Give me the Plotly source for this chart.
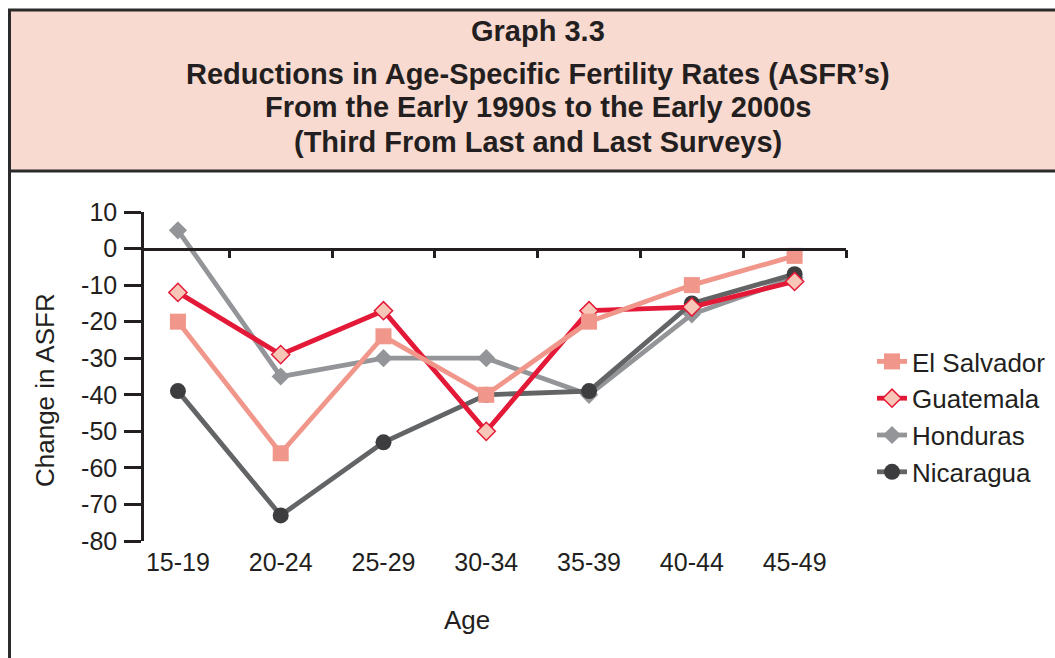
import plotly.graph_objects as go

# Datos
ages = ["15-19", "20-24", "25-29", "30-34", "35-39", "40-44", "45-49"]
el_salvador = [-20, -56, -24, -40, -20, -10, -2]
guatemala = [-12, -29, -17, -50, -17, -16, -9]
honduras = [5, -35, -30, -30, -40, -18, -8]
nicaragua = [-39, -73, -53, -40, -39, -15, -7]
y_ticks = [10, 0, -10, -20, -30, -40, -50, -60, -70, -80]

title_lines = [
    "Graph 3.3",
    "Reductions in Age-Specific Fertility Rates (ASFR\u2019s)",
    "From the Early 1990s to the Early 2000s",
    "(Third From Last and Last Surveys)",
]

W, H = 1055, 658
L, R, T, B = 144, 846, 212, 541
FONT = "Liberation Sans, Arial, sans-serif"
TXT = "#231f20"


def fx(p):
    return (p - L) / (R - L)


def fy(p):
    return (B - p) / (B - T)


x = list(range(len(ages)))

fig = go.Figure()

# orden de dibujo: Honduras abajo, El Salvador arriba
fig.add_trace(go.Scatter(
    x=x, y=honduras, name="Honduras", mode="lines+markers", legendrank=3,
    line=dict(color="#939598", width=4.8),
    marker=dict(symbol="diamond", size=14, color="#939598"),
))
fig.add_trace(go.Scatter(
    x=x, y=nicaragua, name="Nicaragua", mode="lines+markers", legendrank=4,
    line=dict(color="#636466", width=4.8),
    marker=dict(symbol="circle", size=16, color="#3d3d3f"),
))
fig.add_trace(go.Scatter(
    x=x, y=guatemala, name="Guatemala", mode="lines+markers", legendrank=2,
    line=dict(color="#e31937", width=4.8),
    marker=dict(symbol="diamond", size=14, color="#f7c6b6",
                line=dict(color="#e31937", width=1.5)),
))
fig.add_trace(go.Scatter(
    x=x, y=el_salvador, name="El Salvador", mode="lines+markers", legendrank=1,
    line=dict(color="#f0968a", width=4.8),
    marker=dict(symbol="square", size=16, color="#f0968a"),
))

# eje de categorias sobre y=0 (solo linea y marcas entre categorias)
zero_pos = (0 - y_ticks[-1]) / (y_ticks[0] - y_ticks[-1])

fig.update_layout(
    width=W, height=H,
    margin=dict(l=L, r=W - R, t=T, b=H - B, autoexpand=False),
    paper_bgcolor="white", plot_bgcolor="white",
    font=dict(family=FONT, color=TXT),
    showlegend=True,
    legend=dict(
        x=fx(872), y=fy(338), xanchor="left", yanchor="top",
        font=dict(size=26, color=TXT), bgcolor="rgba(0,0,0,0)",
        traceorder="normal",
    ),
    xaxis=dict(
        range=[-0.33, 6.5], tickmode="array", tickvals=x, ticktext=ages,
        showline=False, showgrid=False, zeroline=False, ticks="",
        tickfont=dict(size=25, color=TXT), ticklabelstandoff=4,
    ),
    xaxis2=dict(
        overlaying="x", anchor="free", position=zero_pos, side="bottom",
        range=[-0.33, 6.5], tickmode="array",
        tickvals=[i + 0.5 for i in x], showticklabels=False,
        showline=True, linecolor="#231f20", linewidth=2.5,
        ticks="outside", ticklen=8, tickwidth=2.5, tickcolor="#231f20",
        showgrid=False, zeroline=False,
    ),
    yaxis=dict(
        range=[y_ticks[-1], y_ticks[0]], tickmode="array", tickvals=y_ticks,
        ticktext=[str(v) for v in y_ticks],
        showline=True, linecolor="#231f20", linewidth=2.5,
        ticks="outside", ticklen=17, tickwidth=2.5, tickcolor="#231f20",
        showgrid=False, zeroline=False,
        tickfont=dict(size=25, color=TXT), ticklabelstandoff=2,
    ),
)

# traza vacia para que exista xaxis2
fig.add_trace(go.Scatter(x=[None], y=[None], xaxis="x2", showlegend=False,
                         hoverinfo="skip"))

# caja del titulo
fig.add_shape(type="rect", xref="paper", yref="paper",
              x0=fx(9.5), x1=fx(1070), y0=fy(10), y1=fy(171),
              fillcolor="#f9dad1", line=dict(color="#2b2b2b", width=3),
              layer="below")
fig.add_shape(type="line", xref="paper", yref="paper",
              x0=fx(9.5), x1=fx(9.5), y0=fy(171), y1=fy(670),
              line=dict(color="#2b2b2b", width=3))

title_y = [31, 74, 107, 142]
for txt, py in zip(title_lines, title_y):
    fig.add_annotation(text="<b>%s</b>" % txt, xref="paper", yref="paper",
                       x=fx(538), y=fy(py), showarrow=False,
                       xanchor="center", yanchor="middle",
                       font=dict(size=29, color=TXT))

fig.add_annotation(text="Change in ASFR", xref="paper", yref="paper",
                   x=fx(45), y=fy(390), showarrow=False, textangle=-90,
                   xanchor="center", yanchor="middle",
                   font=dict(size=26, color=TXT))
fig.add_annotation(text="Age", xref="paper", yref="paper",
                   x=fx(467), y=fy(620), showarrow=False,
                   xanchor="center", yanchor="middle",
                   font=dict(size=26, color=TXT))

fig.write_html("out.html", config={"displayModeBar": False},
               post_script="document.body.style.margin='0';")
